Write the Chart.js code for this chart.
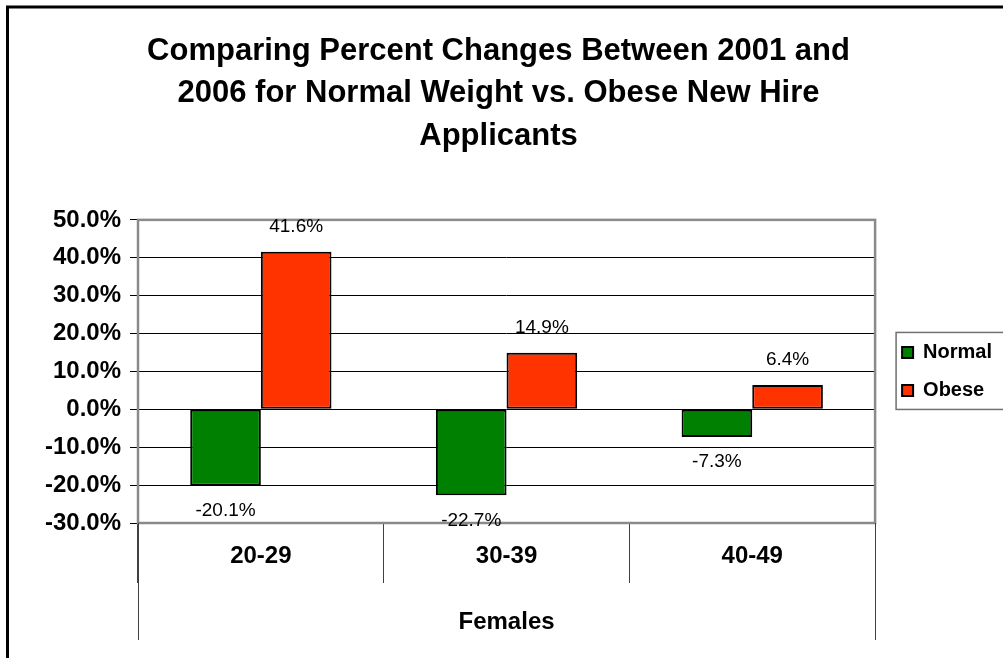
<!DOCTYPE html>
<html>
<head>
<meta charset="utf-8">
<script src="https://cdn.jsdelivr.net/npm/chart.js@4"></script>
<style>
  html, body { margin: 0; padding: 0; background: #ffffff; overflow: hidden; }
  #wrap { width: 1003px; height: 658px; }
</style>
</head>
<body>
<div id="wrap"><canvas id="c" width="1003" height="658"></canvas></div>
<script>
// ---- data ----
const categories = ['20-29', '30-39', '40-49'];
const seriesNames = ['Normal', 'Obese'];
const normalValues = [-20.1, -22.7, -7.3];
const obeseValues = [41.6, 14.9, 6.4];
const titleLines = ['Comparing Percent Changes Between 2001 and', '2006 for Normal Weight vs. Obese New Hire', 'Applicants'];
const xAxisTitle = 'Females';
const yTickMin = -30;
const yTickMax = 50;
const yTickStep = 10;

const FONT = '"Liberation Sans", Arial, Helvetica, sans-serif';
const LEGEND_PAD = 18;

const decorPlugin = {
  id: 'decor',
  afterLayout(chart) {
    const lg = chart.legend;
    const a = chart.chartArea;
    if (lg) {
      const dx = (a.right + 27) - (lg.left + LEGEND_PAD);
      lg.left += dx; lg.right += dx;
      const dy = (a.top + a.bottom) / 2 - (lg.top + lg.bottom) / 2;
      lg.top += dy; lg.bottom += dy;
    }
  },
  beforeDatasetsDraw(chart) {
    const {ctx, chartArea: a} = chart;
    ctx.save();
    ctx.strokeStyle = '#8a8a8a';
    ctx.lineWidth = 2.5;
    ctx.strokeRect(a.left, a.top, a.right - a.left, a.bottom - a.top);
    ctx.restore();
  },
  afterDraw(chart) {
    const {ctx, chartArea: a} = chart;
    ctx.save();
    // outer category group separators (extend to the group label level)
    ctx.strokeStyle = '#404040';
    ctx.lineWidth = 1;
    [a.left, a.right].forEach(x => {
      ctx.beginPath();
      ctx.moveTo(Math.round(x) + 0.5, a.bottom);
      ctx.lineTo(Math.round(x) + 0.5, a.bottom + 117);
      ctx.stroke();
    });
    // data labels
    ctx.fillStyle = '#000';
    ctx.font = '19px ' + FONT;
    ctx.textAlign = 'center';
    ctx.textBaseline = 'middle';
    chart.data.datasets.forEach((ds, di) => {
      const meta = chart.getDatasetMeta(di);
      meta.data.forEach((el, i) => {
        const v = ds.data[i];
        const y = v >= 0 ? el.y - 25 : el.y + 25;
        ctx.fillText(v.toFixed(1) + '%', el.x, y);
      });
    });
    // legend frame
    const lg = chart.legend;
    if (lg && lg.legendHitBoxes && lg.legendHitBoxes.length) {
      const hb = lg.legendHitBoxes;
      const first = hb[0], last = hb[hb.length - 1];
      const l = first.left - 6;
      const t = first.top + first.height / 2 - 20;
      const b = last.top + last.height / 2 + 19;
      ctx.strokeStyle = '#707070';
      ctx.lineWidth = 1.5;
      ctx.strokeRect(l, t, chart.width + 20 - l, b - t);
    }
    // outer black frame (left & top visible)
    ctx.strokeStyle = '#000';
    ctx.lineWidth = 3;
    ctx.strokeRect(7.5, 7, chart.width + 40, chart.height + 40);
    ctx.restore();
  }
};

new Chart(document.getElementById('c'), {
  type: 'bar',
  data: {
    labels: categories,
    datasets: [
      {
        label: seriesNames[0],
        data: normalValues,
        backgroundColor: '#008000',
        borderColor: '#000000',
        borderWidth: 2,
        borderSkipped: false,
        categoryPercentage: 0.575,
        barPercentage: 1.0
      },
      {
        label: seriesNames[1],
        data: obeseValues,
        backgroundColor: '#ff3300',
        borderColor: '#000000',
        borderWidth: 2,
        borderSkipped: false,
        categoryPercentage: 0.575,
        barPercentage: 1.0
      }
    ]
  },
  options: {
    responsive: false,
    animation: false,
    devicePixelRatio: 1,
    layout: { padding: { left: 4, right: 10, top: 10, bottom: 0 } },
    plugins: {
      title: {
        display: true,
        text: titleLines,
        color: '#000',
        font: { family: FONT, size: 31, weight: 'bold', lineHeight: 1.375 },
        padding: { top: 20, bottom: 62 }
      },
      legend: {
        display: true,
        position: 'right',
        align: 'center',
        labels: {
          color: '#000',
          font: { family: FONT, size: 20, weight: 'bold' },
          boxWidth: 11,
          boxHeight: 11,
          padding: LEGEND_PAD
        }
      },
      tooltip: { enabled: false }
    },
    scales: {
      x: {
        offset: true,
        grid: {
          display: true,
          offset: true,
          drawOnChartArea: false,
          drawTicks: true,
          tickLength: 60,
          color: '#404040',
          lineWidth: 1
        },
        border: { display: false },
        ticks: {
          color: '#000',
          font: { family: FONT, size: 24, weight: 'bold' },
          padding: -41,
          maxRotation: 0
        },
        title: {
          display: true,
          text: xAxisTitle,
          color: '#000',
          font: { family: FONT, size: 24, weight: 'bold' },
          padding: { top: 0, bottom: 21 }
        },
        afterFit(scale) { scale.height = 135; }
      },
      y: {
        min: yTickMin,
        max: yTickMax,
        grid: {
          color: '#000',
          lineWidth: 1,
          drawTicks: true,
          tickLength: 8,
          tickColor: '#000'
        },
        border: { display: false },
        ticks: {
          stepSize: yTickStep,
          color: '#000',
          padding: 9,
          font: { family: FONT, size: 24, weight: 'bold' },
          callback: (v) => Number(v).toFixed(1) + '%'
        },
        afterFit(scale) { scale.width = 134; }
      }
    }
  },
  plugins: [decorPlugin]
});
</script>
</body>
</html>
